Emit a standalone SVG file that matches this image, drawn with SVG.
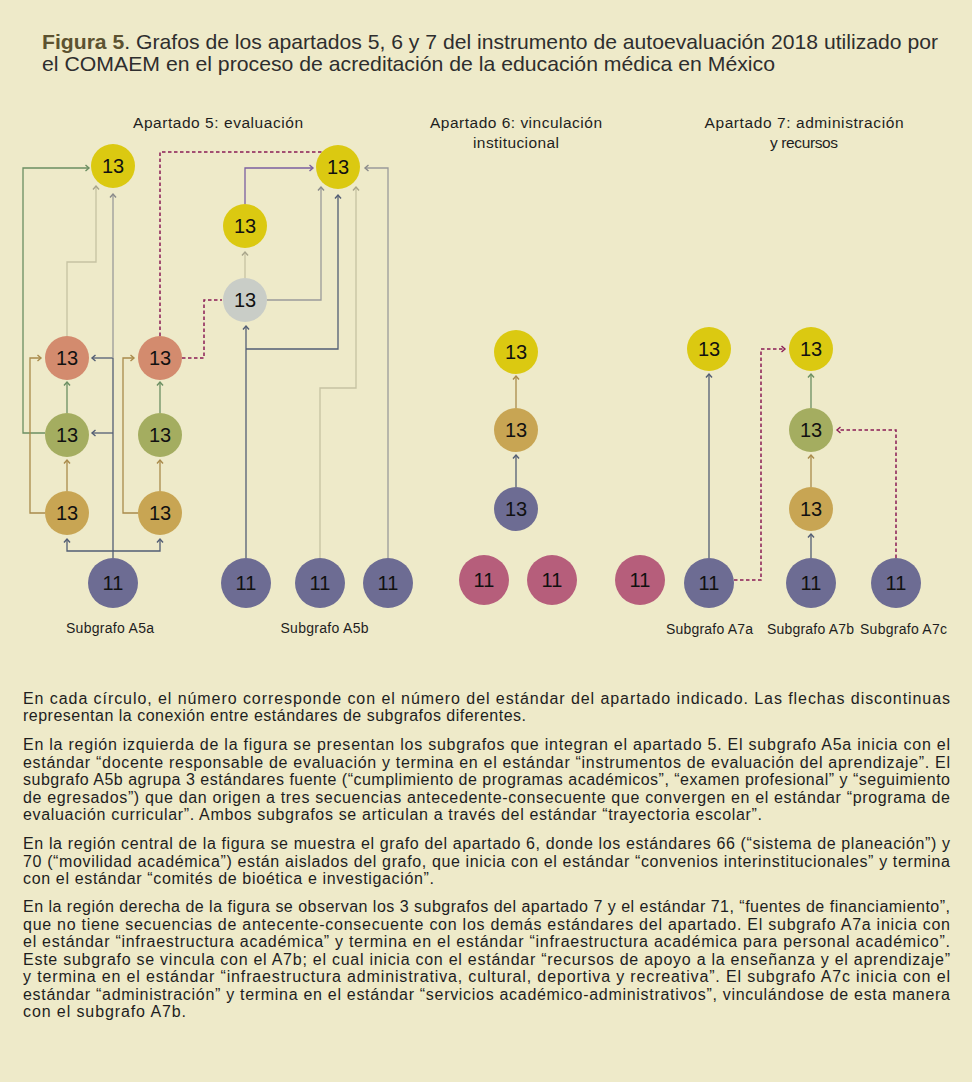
<svg xmlns="http://www.w3.org/2000/svg" width="972" height="1082" viewBox="0 0 972 1082">
<style>
text{font-family:"Liberation Sans",Arial,Helvetica,sans-serif;fill:#1e1e1e}
.t{font-family:"Liberation Sans Narrow","Liberation Sans",Arial,sans-serif;font-size:21px;fill:#2e2e2e}
.fig{font-weight:bold;fill:#5c5230}
.h{font-size:15.5px;text-anchor:middle}
.lab{font-size:14px;text-anchor:middle}
.n{font-size:20px;text-anchor:middle;fill:#111}
.p{font-size:16px}
.c{fill:none;stroke-width:1.3}
.sl{stroke:#525d74}
.gr{stroke:#6b8e62}
.br{stroke:#a98a4b}
.lg{stroke:#c6c2a2}
.mg{stroke:#9a9a9a}
.pu{stroke:#7b5fa0}
.ds{stroke:#8b1d55;stroke-width:1.5;stroke-dasharray:3.5 2.5}
.Y{fill:#dbc911}.S{fill:#d38b6e}.G{fill:#a4ad60}.O{fill:#c8a553}.B{fill:#6d6c93}.Gy{fill:#c9cdc7}.R{fill:#b65e7b}
</style>
<defs>
<marker id="m-sl" viewBox="-5 -5 10 10" markerWidth="10" markerHeight="10" markerUnits="userSpaceOnUse" orient="auto"><path d="M-3.5,-3 L0,0 L-3.5,3" fill="none" stroke="#525d74" stroke-width="1.4"/></marker>
<marker id="m-gr" viewBox="-5 -5 10 10" markerWidth="10" markerHeight="10" markerUnits="userSpaceOnUse" orient="auto"><path d="M-3.5,-3 L0,0 L-3.5,3" fill="none" stroke="#6b8e62" stroke-width="1.4"/></marker>
<marker id="m-br" viewBox="-5 -5 10 10" markerWidth="10" markerHeight="10" markerUnits="userSpaceOnUse" orient="auto"><path d="M-3.5,-3 L0,0 L-3.5,3" fill="none" stroke="#a98a4b" stroke-width="1.4"/></marker>
<marker id="m-lg" viewBox="-5 -5 10 10" markerWidth="10" markerHeight="10" markerUnits="userSpaceOnUse" orient="auto"><path d="M-3.5,-3 L0,0 L-3.5,3" fill="none" stroke="#a8a48a" stroke-width="1.4"/></marker>
<marker id="m-mg" viewBox="-5 -5 10 10" markerWidth="10" markerHeight="10" markerUnits="userSpaceOnUse" orient="auto"><path d="M-3.5,-3 L0,0 L-3.5,3" fill="none" stroke="#8a8a8a" stroke-width="1.4"/></marker>
<marker id="m-pu" viewBox="-5 -5 10 10" markerWidth="10" markerHeight="10" markerUnits="userSpaceOnUse" orient="auto"><path d="M-3.5,-3 L0,0 L-3.5,3" fill="none" stroke="#7b5fa0" stroke-width="1.4"/></marker>
<marker id="m-ds" viewBox="-5 -5 10 10" markerWidth="10" markerHeight="10" markerUnits="userSpaceOnUse" orient="auto"><path d="M-3.5,-3 L0,0 L-3.5,3" fill="none" stroke="#8b1d55" stroke-width="1.4"/></marker>
</defs>
<rect width="972" height="1082" fill="#eeeac9"/>

<g id="title">
<text class="t" x="42" y="49" textLength="896" lengthAdjust="spacingAndGlyphs"><tspan class="fig">Figura 5</tspan>. Grafos de los apartados 5, 6 y 7 del instrumento de autoevaluación 2018 utilizado por</text>
<text class="t" x="42" y="71" textLength="733" lengthAdjust="spacingAndGlyphs">el COMAEM en el proceso de acreditación de la educación médica en México</text>
</g>

<g id="headings">
<text class="h" x="218" y="128" textLength="170" lengthAdjust="spacing">Apartado 5: evaluación</text>
<text class="h" x="516" y="128" textLength="172" lengthAdjust="spacing">Apartado 6: vinculación</text>
<text class="h" x="516" y="148" textLength="86" lengthAdjust="spacing">institucional</text>
<text class="h" x="804" y="128" textLength="199" lengthAdjust="spacing">Apartado 7: administración</text>
<text class="h" x="804" y="148" textLength="68" lengthAdjust="spacing">y recursos</text>
</g>

<g id="connectors">
<path class="c sl" d="M113,558 V551 H67 V539" marker-end="url(#m-sl)"/>
<path class="c sl" d="M113,551 H160 V539" marker-end="url(#m-sl)"/>
<path class="c sl" d="M113,551 V358"/>
<path class="c sl" d="M113,433 H92" marker-end="url(#m-sl)"/>
<path class="c sl" d="M113,358 H92" marker-end="url(#m-sl)"/>
<path class="c mg" d="M113,358 V194" marker-end="url(#m-mg)"/>
<path class="c gr" d="M45,433 H23 V168 H89" marker-end="url(#m-gr)"/>
<path class="c lg" d="M67,336 V262 H96 V186" marker-end="url(#m-lg)"/>
<path class="c br" d="M45,513 H30 V358 H41" marker-end="url(#m-br)"/>
<path class="c br" d="M138,513 H123 V358 H134" marker-end="url(#m-br)"/>
<path class="c gr" d="M67,413 V382" marker-end="url(#m-gr)"/>
<path class="c gr" d="M160,413 V382" marker-end="url(#m-gr)"/>
<path class="c br" d="M67,491 V460" marker-end="url(#m-br)"/>
<path class="c br" d="M160,491 V460" marker-end="url(#m-br)"/>
<path class="c ds" d="M160,336 V152 H322"/>
<path class="c ds" d="M182,358 H204 V300 H222"/>
<path class="c pu" d="M245,204 V168 H313" marker-end="url(#m-pu)"/>
<path class="c lg" d="M245,278 V252" marker-end="url(#m-lg)"/>
<path class="c mg" d="M267,300 H321 V187" marker-end="url(#m-mg)"/>
<path class="c sl" d="M246,558 V326" marker-end="url(#m-sl)"/>
<path class="c sl" d="M246,349 H338 V195" marker-end="url(#m-sl)"/>
<path class="c lg" d="M320,558 V388 H356 V187" marker-end="url(#m-lg)"/>
<path class="c mg" d="M388,558 V168 H365" marker-end="url(#m-mg)"/>
<path class="c br" d="M516,408 V376" marker-end="url(#m-br)"/>
<path class="c sl" d="M516,487 V455" marker-end="url(#m-sl)"/>
<path class="c sl" d="M709,558 V374" marker-end="url(#m-sl)"/>
<path class="c ds" d="M734,580 H761 V349 H785" marker-end="url(#m-ds)"/>
<path class="c ds" d="M896,558 V430 H837" marker-end="url(#m-ds)"/>
<path class="c gr" d="M811,408 V374" marker-end="url(#m-gr)"/>
<path class="c br" d="M811,487 V455" marker-end="url(#m-br)"/>
<path class="c sl" d="M811,558 V534" marker-end="url(#m-sl)"/>
</g>

<g id="a5a-y"><circle class="Y" cx="113" cy="166" r="22"/><text class="n" x="113" y="173">13</text></g>
<g id="a5a-s1"><circle class="S" cx="67" cy="358" r="22"/><text class="n" x="67" y="365">13</text></g>
<g id="a5a-s2"><circle class="S" cx="160" cy="358" r="22"/><text class="n" x="160" y="365">13</text></g>
<g id="a5a-g1"><circle class="G" cx="67" cy="435" r="22"/><text class="n" x="67" y="442">13</text></g>
<g id="a5a-g2"><circle class="G" cx="160" cy="435" r="22"/><text class="n" x="160" y="442">13</text></g>
<g id="a5a-o1"><circle class="O" cx="67" cy="513" r="22"/><text class="n" x="67" y="520">13</text></g>
<g id="a5a-o2"><circle class="O" cx="160" cy="513" r="22"/><text class="n" x="160" y="520">13</text></g>
<g id="a5a-n"><circle class="B" cx="113" cy="583" r="25"/><text class="n" x="113" y="590">11</text></g>

<g id="a5b-y1"><circle class="Y" cx="338" cy="167" r="22"/><text class="n" x="338" y="174">13</text></g>
<g id="a5b-y2"><circle class="Y" cx="245" cy="226" r="22"/><text class="n" x="245" y="233">13</text></g>
<g id="a5b-g"><circle class="Gy" cx="245" cy="300" r="22"/><text class="n" x="245" y="307">13</text></g>
<g id="a5b-n1"><circle class="B" cx="246" cy="583" r="25"/><text class="n" x="246" y="590">11</text></g>
<g id="a5b-n2"><circle class="B" cx="320" cy="583" r="25"/><text class="n" x="320" y="590">11</text></g>
<g id="a5b-n3"><circle class="B" cx="388" cy="583" r="25"/><text class="n" x="388" y="590">11</text></g>

<g id="a6-y"><circle class="Y" cx="516" cy="352" r="22"/><text class="n" x="516" y="359">13</text></g>
<g id="a6-o"><circle class="O" cx="516" cy="430" r="22"/><text class="n" x="516" y="437">13</text></g>
<g id="a6-b"><circle class="B" cx="516" cy="509" r="22"/><text class="n" x="516" y="516">13</text></g>
<g id="a6-r1"><circle class="R" cx="484" cy="580" r="25"/><text class="n" x="484" y="587">11</text></g>
<g id="a6-r2"><circle class="R" cx="552" cy="580" r="25"/><text class="n" x="552" y="587">11</text></g>
<g id="a7-r"><circle class="R" cx="640" cy="580" r="25"/><text class="n" x="640" y="587">11</text></g>

<g id="a7a-y"><circle class="Y" cx="709" cy="349" r="22"/><text class="n" x="709" y="356">13</text></g>
<g id="a7b-y"><circle class="Y" cx="811" cy="349" r="22"/><text class="n" x="811" y="356">13</text></g>
<g id="a7b-g"><circle class="G" cx="811" cy="430" r="22"/><text class="n" x="811" y="437">13</text></g>
<g id="a7b-o"><circle class="O" cx="811" cy="509" r="22"/><text class="n" x="811" y="516">13</text></g>
<g id="a7a-n"><circle class="B" cx="709" cy="583" r="25"/><text class="n" x="709" y="590">11</text></g>
<g id="a7b-n"><circle class="B" cx="811" cy="583" r="25"/><text class="n" x="811" y="590">11</text></g>
<g id="a7c-n"><circle class="B" cx="896" cy="583" r="25"/><text class="n" x="896" y="590">11</text></g>

<g id="labels">
<text class="lab" x="110" y="633" textLength="88" lengthAdjust="spacing">Subgrafo A5a</text>
<text class="lab" x="324.5" y="633" textLength="88" lengthAdjust="spacing">Subgrafo A5b</text>
<text class="lab" x="709.5" y="634" textLength="87" lengthAdjust="spacing">Subgrafo A7a</text>
<text class="lab" x="810.5" y="634" textLength="87" lengthAdjust="spacing">Subgrafo A7b</text>
<text class="lab" x="903.5" y="634" textLength="87" lengthAdjust="spacing">Subgrafo A7c</text>
</g>

<g id="caption">
<text class="p" x="23" y="704" textLength="927" lengthAdjust="spacing">En cada círculo, el número corresponde con el número del estándar del apartado indicado. Las flechas discontinuas</text>
<text class="p" x="23" y="721" textLength="503" lengthAdjust="spacing">representan la conexión entre estándares de subgrafos diferentes.</text>
<text class="p" x="23" y="750" textLength="927" lengthAdjust="spacing">En la región izquierda de la figura se presentan los subgrafos que integran el apartado 5. El subgrafo A5a inicia con el</text>
<text class="p" x="23" y="767.5" textLength="927" lengthAdjust="spacing">estándar “docente responsable de evaluación y termina en el estándar “instrumentos de evaluación del aprendizaje”. El</text>
<text class="p" x="23" y="785" textLength="927" lengthAdjust="spacing">subgrafo A5b agrupa 3 estándares fuente (“cumplimiento de programas académicos”, “examen profesional” y “seguimiento</text>
<text class="p" x="23" y="802.5" textLength="927" lengthAdjust="spacing">de egresados”) que dan origen a tres secuencias antecedente-consecuente que convergen en el estándar “programa de</text>
<text class="p" x="23" y="820" textLength="739" lengthAdjust="spacing">evaluación curricular”. Ambos subgrafos se articulan a través del estándar “trayectoria escolar”.</text>
<text class="p" x="23" y="849" textLength="927" lengthAdjust="spacing">En la región central de la figura se muestra el grafo del apartado 6, donde los estándares 66 (“sistema de planeación”) y</text>
<text class="p" x="23" y="866.5" textLength="927" lengthAdjust="spacing">70 (“movilidad académica”) están aislados del grafo, que inicia con el estándar “convenios interinstitucionales” y termina</text>
<text class="p" x="23" y="884" textLength="411" lengthAdjust="spacing">con el estándar “comités de bioética e investigación”.</text>
<text class="p" x="23" y="912" textLength="927" lengthAdjust="spacing">En la región derecha de la figura se observan los 3 subgrafos del apartado 7 y el estándar 71, “fuentes de financiamiento”,</text>
<text class="p" x="23" y="929.5" textLength="927" lengthAdjust="spacing">que no tiene secuencias de antecente-consecuente con los demás estándares del apartado. El subgrafo A7a inicia con</text>
<text class="p" x="23" y="947" textLength="927" lengthAdjust="spacing">el estándar “infraestructura académica” y termina en el estándar “infraestructura académica para personal académico”.</text>
<text class="p" x="23" y="964.5" textLength="927" lengthAdjust="spacing">Este subgrafo se vincula con el A7b; el cual inicia con el estándar “recursos de apoyo a la enseñanza y el aprendizaje”</text>
<text class="p" x="23" y="982" textLength="927" lengthAdjust="spacing">y termina en el estándar “infraestructura administrativa, cultural, deportiva y recreativa”. El subgrafo A7c inicia con el</text>
<text class="p" x="23" y="999.5" textLength="927" lengthAdjust="spacing">estándar “administración” y termina en el estándar “servicios académico-administrativos”, vinculándose de esta manera</text>
<text class="p" x="23" y="1017" textLength="163" lengthAdjust="spacing">con el subgrafo A7b.</text>
</g>
</svg>
